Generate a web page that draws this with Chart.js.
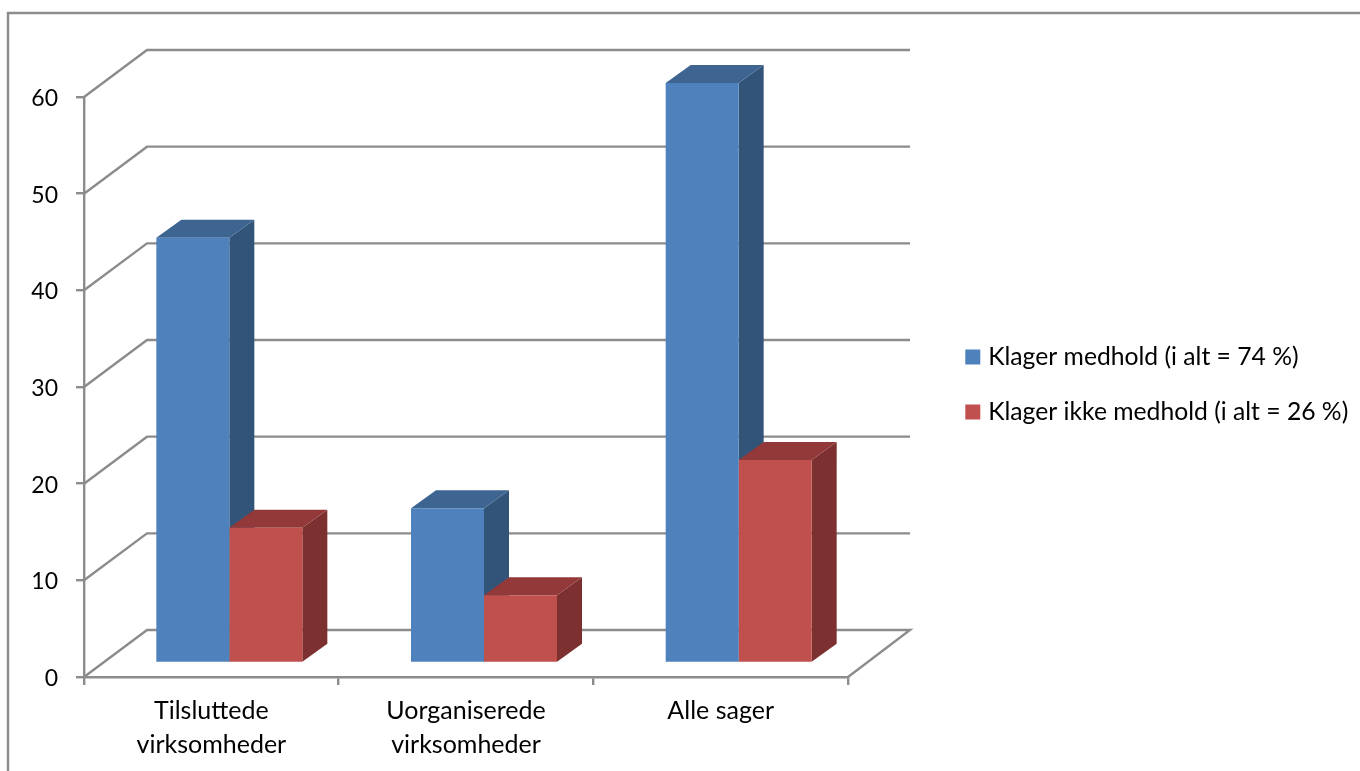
<!DOCTYPE html>
<html>
<head>
<meta charset="utf-8">
<title>Klager medhold</title>
<script src="https://cdn.jsdelivr.net/npm/chart.js@4"></script>
<style>
  html, body { margin: 0; padding: 0; background: #fff; overflow: hidden; }
  canvas { display: block; }
</style>
</head>
<body>
<canvas id="klagerChart" width="1360" height="771"></canvas>
<script>
const categories = [['Tilsluttede', 'virksomheder'], ['Uorganiserede', 'virksomheder'], 'Alle sager']
const medhold = [44, 16, 60]
const ikkeMedhold = [14, 7, 21]
const seriesNames = ['Klager medhold (i alt = 74 %)', 'Klager ikke medhold (i alt = 26 %)']

const LINE = '#8c8c8c'
const LINE_W = 2.4
const FONT = 'Lato, "Open Sans", sans-serif'

// front faces
const FRONT = ['#4f81bd', '#c0504d']
const TOP = ['#3e6592', '#93393a']
const SIDE = ['#335479', '#7c302f']

// depth of the fake 3d box, and where the bars sit inside it
const WALL_DX = 63, WALL_DY = -47
const BAR_DX = 18, BAR_DY = -14
const BOX_DX = 25, BOX_DY = -18

function poly(c, pts) {
    c.beginPath()
    pts.forEach((p, i) => i ? c.lineTo(p[0], p[1]) : c.moveTo(p[0], p[1]))
    c.closePath()
    c.fill()
}

const box3d = {
    id: 'box3d',
    beforeDraw(chart) {
        // outer frame of the embedded chart
        const c = chart.ctx
        c.save()
        c.strokeStyle = LINE
        c.lineWidth = LINE_W
        c.beginPath()
        c.moveTo(8, 771)
        c.lineTo(8, 13)
        c.lineTo(1360, 13)
        c.stroke()
        c.restore()
    },
    afterLayout(chart) {
        // legend goes in the empty space right of the walls
        const lg = chart.legend
        const h = lg.bottom - lg.top
        lg.left = 939.5
        lg.right = 1360
        lg.top = 384.5 - h / 2
        lg.bottom = lg.top + h
    },
    beforeDatasetsDraw(chart) {
        const c = chart.ctx
        const { left, right } = chart.chartArea
        const y = chart.scales.y
        c.save()
        c.strokeStyle = LINE
        c.lineWidth = LINE_W
        y.ticks.forEach(t => {
            const py = y.getPixelForValue(t.value)
            c.beginPath()
            c.moveTo(left, py)
            c.lineTo(left + WALL_DX, py + WALL_DY)
            c.lineTo(right + WALL_DX - 1, py + WALL_DY)
            if (t.value === 0) c.lineTo(right, py)
            c.stroke()
        })
        // sides and tops first, blue then red, the library paints the fronts after
        c.translate(BAR_DX, BAR_DY)
        chart.data.datasets.forEach((ds, i) => {
            chart.getDatasetMeta(i).data.forEach(bar => {
                const l = bar.x - bar.width / 2, r = bar.x + bar.width / 2
                c.fillStyle = SIDE[i]
                poly(c, [[r, bar.y], [r + BOX_DX, bar.y + BOX_DY], [r + BOX_DX, bar.base + BOX_DY], [r, bar.base]])
                c.fillStyle = TOP[i]
                poly(c, [[l, bar.y], [l + BOX_DX, bar.y + BOX_DY], [r + BOX_DX, bar.y + BOX_DY], [r, bar.y]])
            })
        })
        c.restore()
    },
    beforeDatasetDraw(chart) {
        chart.ctx.save()
        chart.ctx.translate(BAR_DX, BAR_DY)
    },
    afterDatasetDraw(chart) {
        chart.ctx.restore()
    }
}

new Chart(document.getElementById('klagerChart').getContext('2d'), {
    type: 'bar',
    data: {
        labels: categories,
        datasets: [
            { label: seriesNames[0], data: medhold, backgroundColor: FRONT[0], clip: false },
            { label: seriesNames[1], data: ikkeMedhold, backgroundColor: FRONT[1], clip: false }
        ]
    },
    options: {
        responsive: false,
        animation: false,
        devicePixelRatio: 1,
        layout: { padding: { top: 97, left: 0, right: 229.33, bottom: 0 } },
        datasets: { bar: { barPercentage: 1, categoryPercentage: 0.5733, borderWidth: 0 } },
        plugins: {
            tooltip: { enabled: false },
            legend: {
                position: 'right',
                labels: {
                    // small box + thick stroke, keeps the text close to the swatch
                    boxWidth: 6,
                    boxHeight: 6,
                    padding: 30.3,
                    color: '#000',
                    font: { family: FONT, size: 24.7, lineHeight: 1.2 },
                    generateLabels: chart => chart.data.datasets.map((ds, i) => ({
                        text: ds.label,
                        datasetIndex: i,
                        fillStyle: FRONT[i],
                        strokeStyle: FRONT[i],
                        lineWidth: 9,
                        fontColor: '#000'
                    }))
                }
            }
        },
        scales: {
            x: {
                afterFit(s) { s.height = 94 },
                grid: { drawOnChartArea: false, color: LINE, lineWidth: LINE_W, tickLength: 8, offset: true },
                border: { color: LINE, width: LINE_W },
                ticks: {
                    color: '#000',
                    maxRotation: 0,
                    padding: 9,
                    font: { family: FONT, size: 25, lineHeight: 1.36 }
                }
            },
            y: {
                min: 0,
                max: 60,
                afterFit(s) { s.width = 84 },
                grid: { drawOnChartArea: false, color: LINE, lineWidth: LINE_W, tickLength: 8 },
                border: { color: LINE, width: LINE_W },
                ticks: {
                    stepSize: 10,
                    color: '#000',
                    padding: 18,
                    labelOffset: 1.5,
                    font: { family: FONT, size: 23 }
                }
            }
        }
    },
    plugins: [box3d]
})
</script>
</body>
</html>
